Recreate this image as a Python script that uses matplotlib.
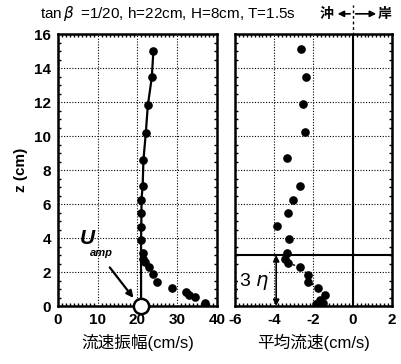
import numpy as np
import matplotlib as mpl
mpl.use('Agg')
from matplotlib import pyplot as plt
import matplotlib.ticker as ticker

plt.rcParams['font.family'] = ['Liberation Sans', 'Noto Sans CJK JP', 'DejaVu Sans']
plt.rcParams['font.weight'] = 'bold'
plt.rcParams['axes.unicode_minus'] = False
plt.rcParams['mathtext.fontset'] = 'custom'
plt.rcParams['mathtext.it'] = 'DejaVu Sans:italic:normal'
plt.rcParams['mathtext.rm'] = 'Liberation Sans:normal'

#------------------- Data ----------------------
# velocity amplitude profile (left panel)
amp_u = [24.0, 23.6, 22.6, 22.1, 21.5, 21.3, 21.0, 21.0, 20.9, 20.9,
         21.3, 21.5, 21.8, 23.0, 23.8, 24.8, 28.8, 32.1, 33.0, 34.5, 37.0]
amp_z = [15.0, 13.45, 11.8, 10.2, 8.6, 7.06, 6.24, 5.45, 4.67, 3.88,
         3.1, 2.74, 2.6, 2.3, 1.88, 1.43, 1.06, 0.84, 0.65, 0.51, 0.2]
# fitted line above the bottom boundary layer
line_u = [20.9, 20.9, 21.0, 21.0, 21.3, 21.5, 22.1, 22.6, 23.6, 24.0]
line_z = [0.0, 3.88, 5.45, 6.24, 7.06, 8.6, 10.2, 11.8, 13.45, 15.0]
u_amp_bottom = 20.9

# mean velocity profile (right panel)
mean_u = [-2.63, -2.38, -2.51, -2.43, -3.36, -2.68, -3.06, -3.31, -3.87, -3.24,
          -3.36, -3.45, -3.3, -2.68, -2.26, -2.26, -1.75, -1.41, -1.66,
          -1.75, -1.6, -1.5, -1.85]
mean_z = [15.1, 13.45, 11.9, 10.25, 8.69, 7.08, 6.24, 5.49, 4.71, 3.94,
          3.1, 2.75, 2.55, 2.27, 1.82, 1.43, 1.04, 0.65, 0.35,
          0.15, 0.12, 0.2, 0.1]
eta3 = 3.0

title = r'tan$\,\beta\,$ =1/20, h=22cm, H=8cm, T=1.5s'

#------------------- Figure ----------------------
fig = plt.figure(figsize=(4.01, 3.64), dpi=100)
ax1 = fig.add_axes([0.1446, 0.1593, 0.3965, 0.747])
ax2 = fig.add_axes([0.586, 0.1593, 0.3915, 0.747])

grid_kw = dict(color='black', linestyle=(0, (1, 1.5)), linewidth=0.8)

for ax in (ax1, ax2):
    ax.set_ylim(0, 16)
    ax.yaxis.set_major_locator(ticker.MultipleLocator(2))
    ax.yaxis.set_minor_locator(ticker.MultipleLocator(0.5))
    ax.tick_params(which='both', direction='in', top=True, right=True,
                   width=1.0, labelsize=11)
    ax.tick_params(which='major', length=0, pad=5)
    ax.tick_params(which='minor', length=2.5)
    ax.grid(True, which='major', **grid_kw)
    for s in ax.spines.values():
        s.set_linewidth(1.8)

# left panel
ax1.set_xlim(0, 40)
ax1.xaxis.set_major_locator(ticker.MultipleLocator(10))
ax1.xaxis.set_minor_locator(ticker.MultipleLocator(1))
ax1.plot(line_u, line_z, color='black', linewidth=1.6, zorder=3)
ax1.plot(amp_u, amp_z, 'o', color='black', markersize=5.2, zorder=4)
ax1.plot([u_amp_bottom], [0], 'o', markerfacecolor='white', markeredgecolor='black',
         markeredgewidth=1.8, markersize=11, zorder=5, clip_on=False)
ax1.annotate('', xy=(19.4, 0.35), xytext=(12.6, 2.4),
             arrowprops=dict(arrowstyle='-|>', color='black', lw=1.6, mutation_scale=10))
ax1.text(7.5, 4.0, 'U', fontsize=15, fontstyle='italic', fontweight='bold',
         ha='center', va='center')
ax1.text(11.0, 3.1, 'amp', fontsize=8, fontstyle='italic', fontweight='bold',
         ha='center', va='center')
ax1.set_ylabel('z (cm)', fontsize=11, fontweight='bold', labelpad=4)
ax1.set_xlabel('流速振幅(cm/s)', fontsize=12, labelpad=5)

# right panel
ax2.set_xlim(-6, 2)
ax2.xaxis.set_major_locator(ticker.MultipleLocator(2))
ax2.xaxis.set_minor_locator(ticker.MultipleLocator(0.2))
ax2.yaxis.set_major_formatter(ticker.NullFormatter())
ax2.axvline(0, color='black', linewidth=1.5, zorder=3)
ax2.axhline(eta3, color='black', linewidth=1.5, zorder=3)
ax2.plot(mean_u[12:], mean_z[12:], color='black', linewidth=1.0,
         linestyle=(0, (2, 1.5)), zorder=3)
ax2.plot(mean_u, mean_z, 'o', color='black', markersize=5.2, zorder=4)
ax2.annotate('', xy=(-3.9, 0.0), xytext=(-3.9, eta3),
             arrowprops=dict(arrowstyle='<|-|>', color='black', lw=1.2, mutation_scale=9,
                             shrinkA=0, shrinkB=0))
ax2.text(-5.05, 1.45, r'3 $\eta$', fontsize=14, fontweight='normal', ha='center', va='center',
         bbox=dict(facecolor='white', edgecolor='none', pad=0.5))
ax2.set_xlabel('平均流速(cm/s)', fontsize=12, labelpad=5)

# header
fig.text(0.1, 0.962, title, fontsize=11, fontweight='normal', ha='left', va='center')
fig.text(0.815, 0.962, '沖', fontsize=10, ha='center', va='center')
fig.text(0.96, 0.962, '岸', fontsize=10, ha='center', va='center')
fig.add_artist(mpl.patches.FancyArrowPatch((0.88, 0.962), (0.835, 0.962),
               transform=fig.transFigure, arrowstyle='-|>', mutation_scale=9,
               color='black', lw=1.2))
fig.add_artist(mpl.patches.FancyArrowPatch((0.88, 0.962), (0.945, 0.962),
               transform=fig.transFigure, arrowstyle='-|>', mutation_scale=9,
               color='black', lw=1.2))
fig.add_artist(mpl.lines.Line2D([0.88, 0.88], [0.905, 0.985], transform=fig.transFigure,
               color='black', lw=1.0, linestyle=(0, (2, 2))))

fig.savefig('out.png', dpi=100)
